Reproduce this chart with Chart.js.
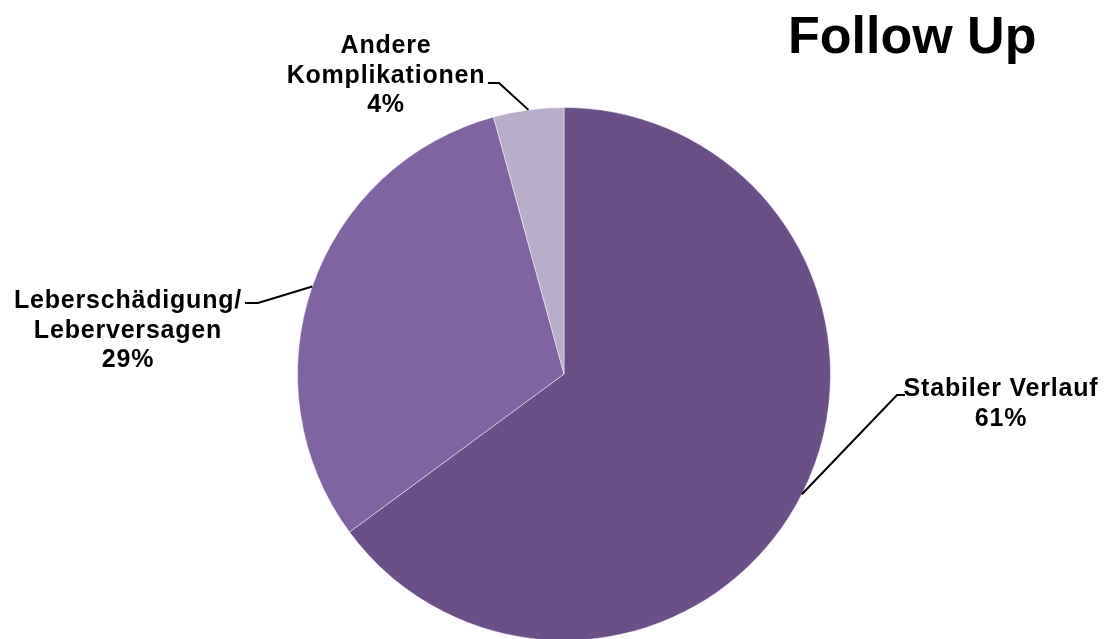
<!DOCTYPE html>
<html>
<head>
<meta charset="utf-8">
<script src="https://cdn.jsdelivr.net/npm/chart.js@4"></script>
<style>
  html, body { margin: 0; padding: 0; background: #fff; overflow: hidden; }
  #wrap { position: relative; width: 1105px; height: 645px; }
</style>
</head>
<body>
<div id="wrap"><canvas id="followUp"></canvas></div>
<script>
const categories = ["Stabiler Verlauf", "Leberschädigung/ Leberversagen", "Andere Komplikationen"];
const labelLines = [["Stabiler Verlauf"], ["Leberschädigung/", "Leberversagen"], ["Andere", "Komplikationen"]];
const shares = [61, 29, 4];
const sliceColors = ["#6a5087", "#8064a1", "#b9aeca"];

// where each callout text sits and how its leader line bends
const callouts = [
  { x: 1001, y: 396, from: [905, 395], elbow: [897, 395] },
  { x: 128, y: 308, from: [245, 303], elbow: [258, 303] },
  { x: 386, y: 53, from: [488, 83], elbow: [499, 83] }
];

const calloutPlugin = {
  id: "callouts",
  afterDraw(chart) {
    const ctx = chart.ctx;
    const meta = chart.getDatasetMeta(0);
    ctx.save();

    // title
    ctx.fillStyle = "#000";
    ctx.font = "bold 52px 'Liberation Sans', Arial, sans-serif";
    ctx.textAlign = "left";
    ctx.textBaseline = "alphabetic";
    ctx.fillText("Follow Up", 788, 53);

    ctx.font = "bold 25px 'Liberation Sans', Arial, sans-serif";
    ctx.letterSpacing = "0.8px";
    ctx.textAlign = "center";
    meta.data.forEach((arc, i) => {
      const c = callouts[i];
      const p = arc.getProps(["x", "y", "startAngle", "endAngle", "outerRadius"], true);
      const mid = (p.startAngle + p.endAngle) / 2;
      const ex = p.x + Math.cos(mid) * p.outerRadius;
      const ey = p.y + Math.sin(mid) * p.outerRadius;

      ctx.strokeStyle = "#000";
      ctx.lineWidth = 2;
      ctx.beginPath();
      ctx.moveTo(c.from[0], c.from[1]);
      ctx.lineTo(c.elbow[0], c.elbow[1]);
      ctx.lineTo(ex, ey);
      ctx.stroke();

      const lines = labelLines[i].concat([shares[i] + "%"]);
      lines.forEach((t, k) => ctx.fillText(t, c.x, c.y + k * 29.5));
    });
    ctx.restore();
  }
};

new Chart(document.getElementById("followUp"), {
  type: "pie",
  data: {
    labels: categories,
    datasets: [{
      data: shares,
      backgroundColor: sliceColors,
      borderColor: "rgba(255,255,255,0.45)",
      borderWidth: 1
    }]
  },
  options: {
    responsive: true,
    maintainAspectRatio: false,
    animation: false,
    layout: { padding: { top: 107, bottom: 4, left: 297, right: 274 } },
    plugins: {
      legend: { display: false },
      tooltip: { enabled: false }
    }
  },
  plugins: [calloutPlugin]
});
</script>
</body>
</html>
